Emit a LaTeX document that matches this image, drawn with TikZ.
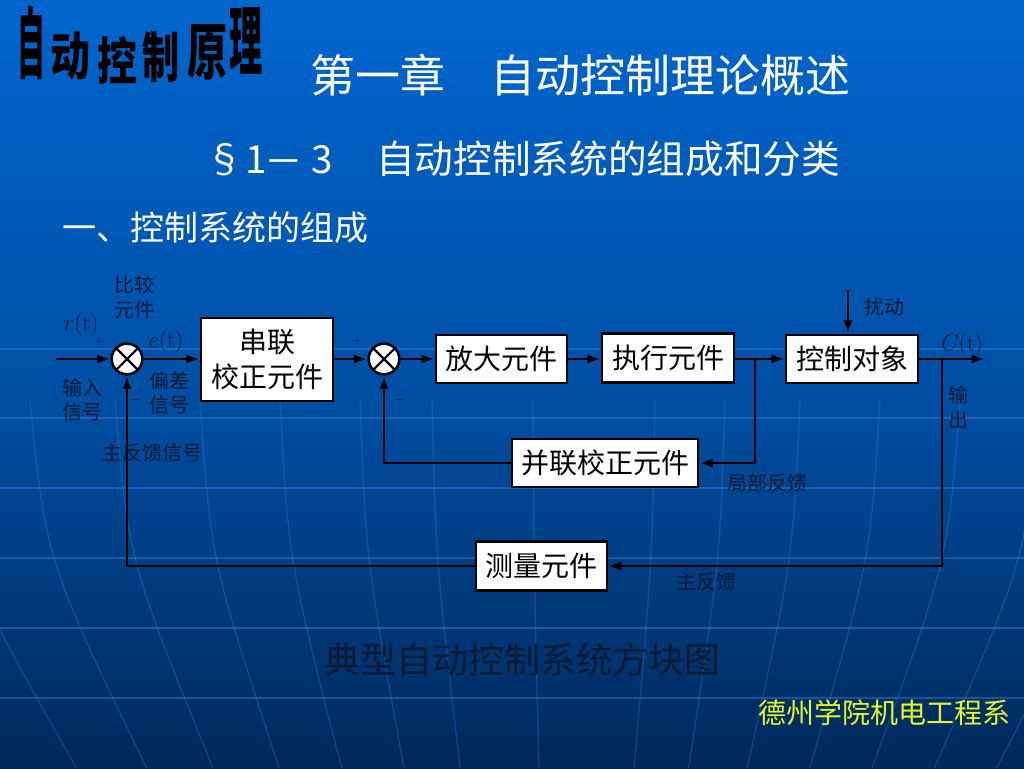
\documentclass[tikz,border=0pt]{standalone}
\usepackage{fontspec}
\newfontfamily\cjk{Noto Sans CJK SC}
\usetikzlibrary{arrows.meta}
\definecolor{bgtop}{RGB}{0,102,206}
\definecolor{bgmid}{RGB}{0,80,166}
\definecolor{bgbot}{RGB}{0,40,90}
\definecolor{lbl}{RGB}{12,26,52}
\definecolor{gridc}{RGB}{70,150,240}
\definecolor{yel}{RGB}{230,245,40}
\begin{document}
\begin{tikzpicture}[x=0.75pt,y=-0.75pt,
  blk/.style={draw=black, fill=white, line width=1.9pt, inner sep=0pt, font=\cjk\fontsize{21}{26}\selectfont, text=black, align=center},
  sumj/.style={circle, draw=black, fill=white, line width=1.9pt, minimum size=23pt, inner sep=0pt},
  arr/.style={line width=2pt, draw=black, -{Latex[length=10pt,width=7pt]}},
  lab/.style={text=lbl, font=\cjk\fontsize{15}{18}\selectfont, inner sep=0pt},
  mlab/.style={text=lbl, font=\fontsize{17}{20}\selectfont, inner sep=0pt},
  sgn/.style={text=lbl, font=\fontsize{10}{12}\selectfont, inner sep=0pt},
  subt/.style={text=white, font=\cjk\fontsize{29}{34}\selectfont, inner sep=0pt, anchor=base},
  bggrid/.style={draw=gridc, line width=1pt, opacity=0.35},
  logo/.style={text=black, font=\cjk\bfseries\fontsize{30}{30}\selectfont, inner sep=0pt}
]
\useasboundingbox (0,0) rectangle (1024,768);
% background
\shade[top color=bgtop, bottom color=bgbot, middle color=bgmid] (0,0) rectangle (1024,768);
\foreach \yy in {349,418,488,558,628,698}
  \draw[bggrid] (0,\yy) -- (1024,\yy);
\foreach \a in {-60,30,115,200,280,360,432,533,655,725,800,880,960,1040,1120}{
  \pgfmathsetmacro\bb{\a+0.22*(560-\a)}
  \pgfmathsetmacro\cc{\a+0.03*(560-\a)}
  \draw[bggrid, opacity=0.25] (\a,400) .. controls (\cc,560) .. (\bb,768);
}

% logo
\node[logo] (l1) at (31.5,43) {\scalebox{0.7}[1.95]{自}};
\node[logo] (l2) at (70,56.5) {\scalebox{1.0}[1.3]{动}};
\node[logo] (l3) at (117,60) {\scalebox{1.0}[1.28]{控}};
\node[logo] (l4) at (161.5,57.5) {\scalebox{0.93}[1.36]{制}};
\node[logo] (l5) at (207,52.5) {\scalebox{1.0}[1.53]{原}};
\node[logo] (l6) at (246.5,41) {\scalebox{0.83}[1.9]{理}};

% titles
\node[text=white, font=\cjk\fontsize{33.75}{40}\selectfont, inner sep=0pt] (title) at (580,75) {第一章　自动控制理论概述};
\node[subt] (sec1) at (225,173) {§};
\node[subt] (sec2) at (256,173) {1};
\node[subt] (sec3) at (284,175) {－};
\node[subt] (sec4) at (322,173) {3};
\node[subt, anchor=base west] (sub) at (376,173) {自动控制系统的组成和分类};
\node[text=white, font=\cjk\fontsize{25.5}{30}\selectfont, inner sep=0pt, anchor=west] (head) at (62,228) {一、控制系统的组成};

% blocks
\node[sumj] (s1) at (127,359) {};
\node[sumj] (s2) at (384,359) {};
\draw[line width=1.6pt] (s1.north west) -- (s1.south east) (s1.north east) -- (s1.south west);
\draw[line width=1.6pt] (s2.north west) -- (s2.south east) (s2.north east) -- (s2.south west);
\node[blk, minimum width=99pt, minimum height=62pt] (b1) at (267,359.5) {串联\\校正元件};
\node[blk, minimum width=98pt, minimum height=36pt] (b2) at (501.5,359) {放大元件};
\node[blk, minimum width=99pt, minimum height=37pt] (b3) at (668,358) {执行元件};
\node[blk, minimum width=99pt, minimum height=36pt] (b4) at (852,359) {控制对象};
\node[blk, minimum width=139.5pt, minimum height=36pt] (b5) at (605,463) {并联校正元件};
\node[blk, minimum width=98pt, minimum height=37pt] (b6) at (541.5,566) {测量元件};

% connectors
\coordinate (in) at (56,359);
\coordinate (j1) at (755,359);
\coordinate (j2) at (942,359);
\coordinate (out) at (985,359);
\coordinate (dist) at (848,290);
\draw[arr] (in) -- (s1.west);
\draw[arr] (s1.east) -- (b1.west |- s1.east);
\draw[arr] (b1.east |- s2.west) -- (s2.west);
\draw[arr] (s2.east) -- (b2.west);
\draw[arr] (b2.east) -- (b3.west |- b2.east);
\draw[arr] (b3.east |- b4.west) -- (b4.west);
\draw[arr] (j1) |- (b5.east);
\draw[arr] (b5.west) -| (s2.south);
\draw[arr] (b4.east) -- (out);
\draw[arr] (j2) |- (b6.east);
\draw[arr] (b6.west) -| (s1.south);
\draw[arr] (dist) -- (dist |- b4.north);

% labels
\node[mlab] (rt) at (81,325) {$r$(t)};
\node[sgn] (p1) at (99,342) {+};
\node[lab] (cmp1) at (134,285) {比较};
\node[lab] (cmp2) at (134,310) {元件};
\node[mlab] (et) at (166,342) {$e$(t)};
\node[lab] (inp1) at (82,388) {输入};
\node[lab] (inp2) at (82,412) {信号};
\node[lab] (dev1) at (169,381) {偏差};
\node[lab] (dev2) at (169,405) {信号};
\node[sgn] (m1) at (136,400) {$-$};
\node[lab] (mfs) at (152,453) {主反馈信号};
\node[sgn] (p2) at (357,341) {+};
\node[sgn] (m2) at (400,400) {$-$};
\node[lab] (dst) at (884,307) {扰动};
\node[mlab] (ct) at (962,345) {$C$(t)};
\node[lab] (o1) at (958,395) {输};
\node[lab] (o2) at (958,420) {出};
\node[lab] (lfb) at (767,483) {局部反馈};
\node[lab] (mfb) at (706,582) {主反馈};

% caption and footer
\node[text=lbl, font=\cjk\fontsize{27}{32}\selectfont, inner sep=0pt] (cap) at (522,660) {典型自动控制系统方块图};
\node[text=yel, font=\cjk\fontsize{21}{25}\selectfont, inner sep=0pt] (foot) at (884,713) {德州学院机电工程系};
\end{tikzpicture}
\end{document}
